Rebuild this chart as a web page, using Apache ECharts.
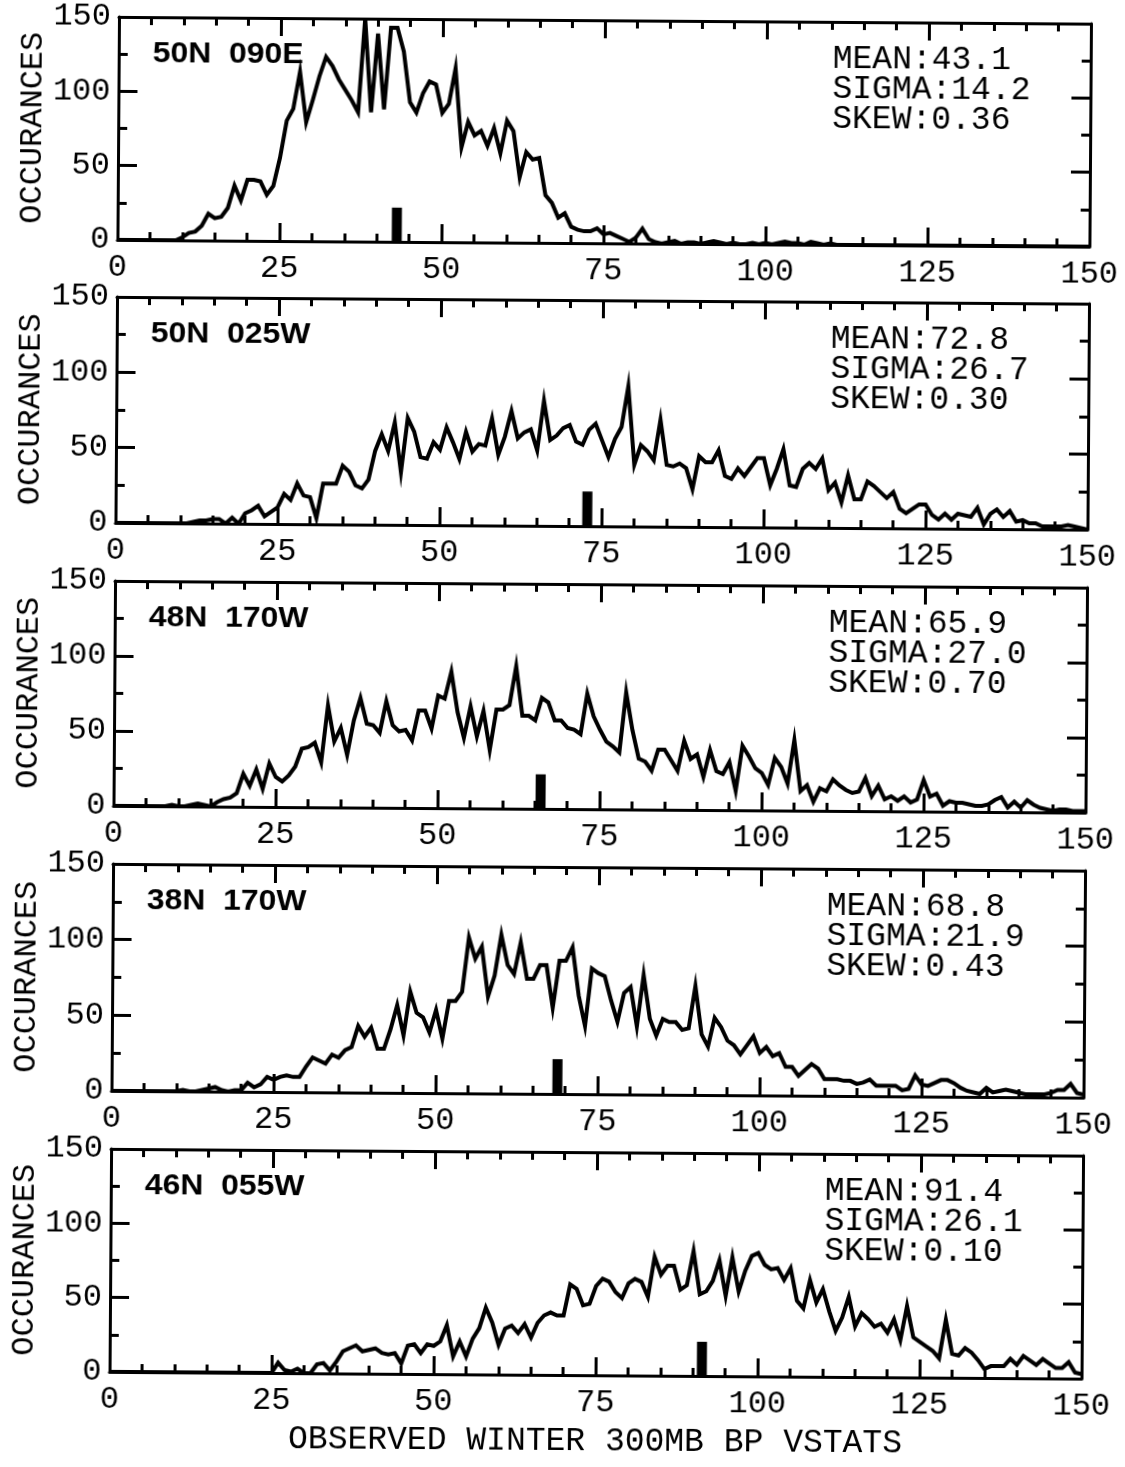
<!DOCTYPE html>
<html>
<head>
<meta charset="utf-8">
<title>Observed winter 300mb BP VSTATS</title>
<script src="https://cdn.jsdelivr.net/npm/echarts@6.0.0/dist/echarts.min.js"></script>
<style>
  html, body { margin: 0; padding: 0; background: #fff; overflow: hidden; }
  /* the scanned figure sits slightly crooked on the page */
  #chart { width: 1125px; height: 1467px; transform: rotate(0.4deg); }
</style>
</head>
<body>
<div id="chart"></div>
<script>
var stations = ['50N  090E', '50N  025W', '48N  170W', '38N  170W', '46N  055W'];
var means = [43.1, 72.8, 65.9, 68.8, 91.4];
var sigmas = [14.2, 26.7, 27.0, 21.9, 26.1];
var skews = [0.36, 0.30, 0.70, 0.43, 0.10];
var markerHeight = 23;

// occurrences per unit bin, x = 0..150
var counts1 = [
  0,0,0,0,0,0,0,0,0,0,
  2,5,6,10,18,15,16,22,37,27,
  41,41,40,31,37,56,81,89,114,80,
  95,111,124,118,109,102,95,87,150,87,
  140,89,144,144,128,94,87,100,108,106,
  87,93,117,64,81,72,75,65,77,60,
  82,75,44,61,56,57,32,27,17,20,
  11,9,8,8,10,6,7,5,3,1,
  4,10,3,1,0,1,2,0,1,1,
  0,1,2,1,0,1,0,0,1,0,
  1,0,1,2,1,1,0,2,1,0,
  1,0,0,0,0,0,0,0,0,0,
  0,0,0,0,0,0,0,0,0,0,
  0,0,0,0,0,0,0,0,0,0,
  0,0,0,0,0,0,0,0,0,0,0
];
var counts2 = [
  0,0,0,0,0,0,0,0,0,0,
  0,0,1,2,2,3,3,0,4,0,
  7,9,12,5,8,11,20,16,27,19,
  18,4,27,27,27,39,35,26,24,30,
  49,60,49,68,35,71,62,45,44,55,
  50,65,55,44,62,49,54,53,71,47,
  59,76,58,62,64,50,83,57,60,65,
  67,56,54,64,68,57,46,58,66,93,
  41,54,50,44,71,41,40,42,39,25,
  47,43,43,51,34,32,39,34,40,46,
  46,28,39,52,28,27,39,43,39,46,
  25,30,17,35,19,19,31,28,24,20,
  24,13,10,13,16,16,9,6,10,6,
  10,9,8,14,3,10,13,8,12,5,
  6,4,4,2,2,2,2,3,2,1,0
];
var counts3 = [
  0,0,0,0,0,0,0,0,0,1,
  0,0,1,2,1,0,3,5,6,9,
  22,14,25,12,29,20,17,21,27,39,
  40,43,30,68,44,53,35,58,73,56,
  55,50,71,55,51,52,45,65,65,53,
  75,73,91,64,47,68,48,65,39,66,
  66,69,95,62,62,59,74,71,59,59,
  54,53,50,77,62,53,45,42,38,78,
  53,34,32,26,40,40,33,26,46,34,
  37,22,40,26,24,32,13,43,36,28,
  25,17,35,29,18,47,13,17,6,15,
  13,21,17,14,12,13,22,10,17,8,
  10,7,10,6,8,21,10,12,4,7,
  6,6,5,4,4,5,8,10,3,7,
  3,8,5,3,2,1,2,2,1,1,1
];
var counts4 = [
  0,0,0,0,0,0,0,0,0,0,
  0,1,0,0,1,2,3,1,0,1,
  1,6,3,5,10,8,10,11,10,10,
  17,23,21,19,25,23,28,30,44,37,
  43,29,29,42,58,38,67,53,50,40,
  55,36,61,61,67,103,89,97,64,78,
  105,85,79,100,76,76,85,85,57,88,
  88,97,65,45,83,80,78,62,48,67,
  71,45,79,50,39,50,48,48,43,44,
  72,40,32,51,45,36,33,27,33,39,
  28,32,26,28,19,19,13,17,21,18,
  11,11,11,10,10,8,9,11,7,7,
  7,7,4,5,14,8,7,9,11,11,
  9,6,4,3,2,6,3,4,5,4,
  3,2,2,2,2,3,5,5,9,3,2
];
var counts5 = [
  0,0,0,0,0,0,0,0,0,0,
  0,0,0,0,0,0,0,0,0,0,
  0,0,0,0,0,0,7,2,1,3,
  0,0,6,7,2,8,15,17,19,15,
  16,17,14,13,14,7,19,20,14,20,
  19,22,33,12,22,12,24,31,45,35,
  20,31,33,28,34,25,35,40,42,40,
  40,61,58,47,48,60,65,63,56,52,
  62,65,63,53,80,68,74,74,58,61,
  84,55,57,64,78,54,80,57,71,81,
  83,75,72,73,65,73,51,46,65,50,
  59,44,31,40,54,34,43,39,34,36,
  30,39,25,48,27,24,21,18,13,39,
  16,15,20,17,12,6,8,8,8,13,
  9,15,12,9,13,10,7,7,11,4,3
];
var allCounts = [counts1, counts2, counts3, counts4, counts5];

// plot boxes (before the page tilt): left, top, width, height
var boxes = [
  [114, 20, 972, 223],
  [114, 300, 972, 226],
  [114, 584, 972, 225],
  [114, 867, 972, 227],
  [114, 1152, 972, 223]
];

var mono = '"Liberation Mono", "Courier New", monospace';
var black = '#000';

function xAxisFor(i, top) {
  return {
    gridIndex: i, type: 'value', min: 0, max: 150, interval: 25,
    position: top ? 'top' : 'bottom',
    axisLine: { show: true, onZero: false, lineStyle: { color: black, width: 3 } },
    axisTick: { show: true, inside: true, length: 18, lineStyle: { color: black, width: 3 } },
    minorTick: { show: true, splitNumber: 5, length: 8, lineStyle: { color: black, width: 3 } },
    splitLine: { show: false },
    axisLabel: { show: !top, margin: 12, fontFamily: mono, fontSize: 32, color: black }
  };
}
function yAxisFor(i, right) {
  return {
    gridIndex: i, type: 'value', min: 0, max: 150, interval: 50,
    position: right ? 'right' : 'left',
    axisLine: { show: true, onZero: false, lineStyle: { color: black, width: 3 } },
    axisTick: { show: true, inside: true, length: 19, lineStyle: { color: black, width: 3 } },
    minorTick: { show: true, splitNumber: 2, length: 9, lineStyle: { color: black, width: 3 } },
    splitLine: { show: false },
    axisLabel: { show: !right, margin: 8, fontFamily: mono, fontSize: 32, color: black }
  };
}

var grids = [], xAxes = [], yAxes = [], series = [], texts = [];
for (var i = 0; i < 5; i++) {
  var b = boxes[i];
  grids.push({ left: b[0], top: b[1], width: b[2], height: b[3], containLabel: false });
  xAxes.push(xAxisFor(i, false), xAxisFor(i, true));
  yAxes.push(yAxisFor(i, false), yAxisFor(i, true));

  series.push({
    type: 'line', xAxisIndex: 2 * i, yAxisIndex: 2 * i,
    data: allCounts[i].map(function (v, k) { return [k, v]; }),
    showSymbol: false, symbol: 'none', clip: true, z: 3,
    lineStyle: { color: black, width: 4, join: 'miter' }
  });
  series.push({
    type: 'bar', xAxisIndex: 2 * i, yAxisIndex: 2 * i,
    data: [[means[i], markerHeight]], barWidth: 10, z: 2,
    itemStyle: { color: black }
  });

  texts.push({
    type: 'text', x: b[0] + 34, y: b[1] + 22, scaleX: 1.1,
    style: { text: stations[i], fill: black, fontSize: 29, fontWeight: 'bold',
             fontFamily: '"Liberation Sans", Arial, sans-serif' }
  });
  texts.push({
    type: 'text', x: b[0] + 714, y: b[1] + 22,
    style: {
      text: 'MEAN:' + means[i].toFixed(1) + '\nSIGMA:' + sigmas[i].toFixed(1) + '\nSKEW:' + skews[i].toFixed(2),
      fill: black, fontSize: 33, lineHeight: 30, fontFamily: mono
    }
  });
  texts.push({
    type: 'text', x: 29, y: b[1] + b[3] / 2, rotation: Math.PI / 2,
    style: { text: 'OCCURANCES', fill: black, fontSize: 32, fontFamily: mono,
             textAlign: 'center', textVerticalAlign: 'middle' }
  });
}
texts.push({
  type: 'text', x: 600, y: 1441,
  style: { text: 'OBSERVED WINTER 300MB BP VSTATS', fill: black, fontSize: 33, fontFamily: mono,
           textAlign: 'center', textVerticalAlign: 'middle' }
});

var chart = echarts.init(document.getElementById('chart'), null, { renderer: 'canvas' });
chart.setOption({
  backgroundColor: '#fff',
  animation: false,
  grid: grids,
  xAxis: xAxes,
  yAxis: yAxes,
  series: series,
  graphic: { elements: texts }
});
</script>
</body>
</html>
